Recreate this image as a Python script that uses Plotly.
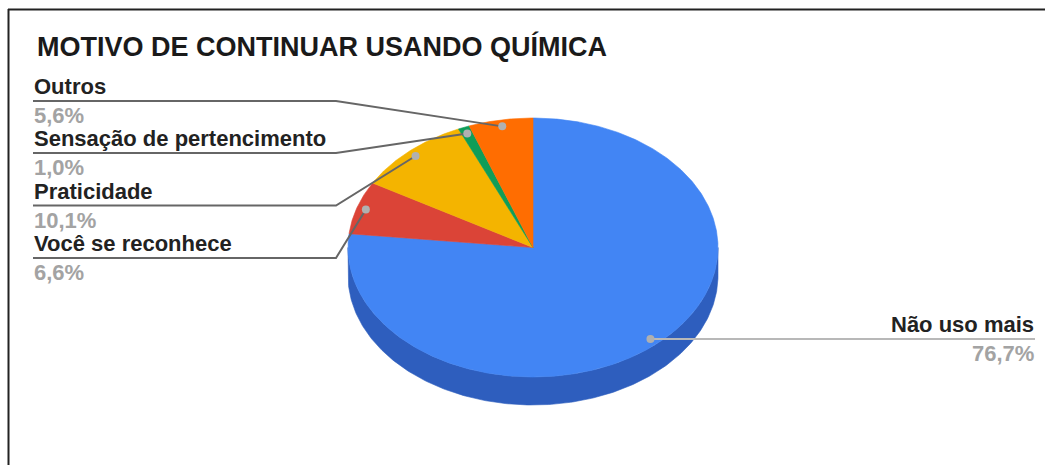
import numpy as np
import plotly.graph_objects as go

# ---- data ----
title = "MOTIVO DE CONTINUAR USANDO QUÍMICA"
labels = ["Não uso mais", "Você se reconhece", "Praticidade", "Sensação de pertencimento", "Outros"]
values = [76.7, 6.6, 10.1, 1.0, 5.6]
pct_labels = ["76,7%", "6,6%", "10,1%", "1,0%", "5,6%"]

# ---- style ----
colors = ["#4285F4", "#DB4437", "#F4B400", "#0F9D58", "#FF6D01"]
side_colors = ["#2E5EBE", "#A8352B", "#BE8C00", "#0B7A44", "#C75500"]
W, H = 1045, 465
CX, CY, RX, RY, DEPTH = 533, 247.5, 185, 129.5, 28
FONT = "Liberation Sans, Arial, sans-serif"
LEFT_X, ELBOW_X, RIGHT_X = 33, 336, 1035
left_line_y = {1: 258, 2: 205.5, 3: 153, 4: 101}


def pt(theta_deg, r=1.0, dy=0.0):
    t = np.radians(theta_deg)
    return CX + RX * r * np.sin(t), CY - RY * r * np.cos(t) + dy


total = float(sum(values))
starts, ends = [], []
acc = 0.0
for v in values:
    starts.append(acc / total * 360)
    acc += v
    ends.append(acc / total * 360)

fig = go.Figure()

# side (depth) of the 3D pie
for i in range(len(values)):
    lo, hi = max(starts[i], 90), min(ends[i], 270)
    if lo >= hi:
        continue
    th = np.linspace(lo, hi, 240)
    tx, ty = pt(th)
    bx, by = pt(th[::-1], dy=DEPTH)
    fig.add_trace(go.Scatter(x=np.concatenate([tx, bx, tx[:1]]), y=np.concatenate([ty, by, ty[:1]]),
                             mode="lines", fill="toself", fillcolor=side_colors[i],
                             line=dict(width=0.6, color=side_colors[i]), hoverinfo="skip", showlegend=False))

# top surface slices
for i in range(len(values)):
    th = np.linspace(starts[i], ends[i], max(8, int((ends[i] - starts[i]) * 2)))
    ax, ay = pt(th)
    fig.add_trace(go.Scatter(x=np.concatenate([[CX], ax, [CX]]), y=np.concatenate([[CY], ay, [CY]]),
                             mode="lines", fill="toself", fillcolor=colors[i],
                             line=dict(width=0.6, color=colors[i]), hoverinfo="skip", showlegend=False,
                             name=labels[i]))

LBL = dict(family=FONT, size=22, color="#222222", weight="bold")
PCT = dict(family=FONT, size=22, color="#a3a3a3", weight="bold")

# leader lines, dots and labels
for i in range(len(values)):
    mid = (starts[i] + ends[i]) / 2
    dx, dy = pt(mid, r=0.95)
    if i == 0:
        lx, ly = [dx, RIGHT_X], [dy, dy]
        lc = "#b8b8b8"
        fig.add_annotation(x=RIGHT_X, y=dy - 1, text=labels[i], xanchor="right", yanchor="bottom",
                           showarrow=False, borderpad=0, font=LBL)
        fig.add_annotation(x=RIGHT_X, y=dy + 1, text=pct_labels[i], xanchor="right", yanchor="top",
                           showarrow=False, borderpad=0, font=PCT)
    else:
        yl = left_line_y[i]
        lx, ly = [LEFT_X, ELBOW_X, dx], [yl, yl, dy]
        lc = "#666666"
        fig.add_annotation(x=LEFT_X, y=yl - 1, text=labels[i], xanchor="left", yanchor="bottom",
                           showarrow=False, borderpad=0, font=LBL)
        fig.add_annotation(x=LEFT_X, y=yl + 1, text=pct_labels[i], xanchor="left", yanchor="top",
                           showarrow=False, borderpad=0, font=PCT)
    fig.add_trace(go.Scatter(x=lx, y=ly, mode="lines", line=dict(color=lc, width=2),
                             hoverinfo="skip", showlegend=False))
    fig.add_trace(go.Scatter(x=[dx], y=[dy], mode="markers",
                             marker=dict(size=8, color="#b0b0b0", line=dict(width=0)),
                             hoverinfo="skip", showlegend=False))

# title
fig.add_annotation(x=35, y=46, text=title, xanchor="left", yanchor="middle", showarrow=False,
                   font=dict(family=FONT, size=27, color="#1a1a1a", weight="bold"))

# frame border
fig.add_shape(type="line", x0=8, x1=W, y0=9.5, y1=9.5, line=dict(color="#222222", width=2))
fig.add_shape(type="line", x0=8.5, x1=8.5, y0=9, y1=H, line=dict(color="#222222", width=2))

fig.update_layout(
    width=W, height=H, margin=dict(l=0, r=0, t=0, b=0, pad=0),
    paper_bgcolor="white", plot_bgcolor="white", showlegend=False,
    xaxis=dict(range=[0, W], visible=False, fixedrange=True),
    yaxis=dict(range=[H, 0], visible=False, fixedrange=True),
)

fig.write_html("out.html")
